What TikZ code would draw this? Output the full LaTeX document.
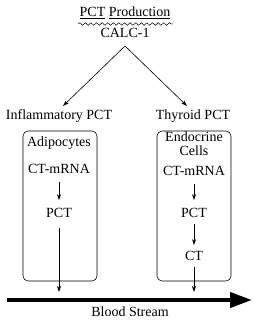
\documentclass[tikz,border=0pt]{standalone}
\usepackage{fontspec}
\setmainfont{Liberation Serif}
\usetikzlibrary{arrows.meta,decorations.pathmorphing}
\begin{document}
\begin{tikzpicture}[x=1pt,y=-1pt,
  lbl/.style={font=\fontsize{14}{16}\selectfont, inner sep=0pt, align=center},
  arr/.style={line width=0.6pt, -{Stealth[length=6pt,width=4pt]}},
  cellbox/.style={draw, line width=0.6pt, rounded corners=5pt, minimum width=74pt, minimum height=150pt, inner sep=0pt}]
\useasboundingbox (0,0) rectangle (260,320);
% header
\node[lbl] (prod) at (125,13) {\underline{PCT} \underline{Production}};
\coordinate (wl) at (78,24);
\coordinate (wr) at (173,24);
\draw[line width=0.5pt, decorate, decoration={snake, segment length=5.6pt, amplitude=1.3pt}] (wl) -- (wr);
\node[lbl] (calc) at (125,33) {CALC-1};
\coordinate (apex) at (125,46);
% branch labels
\node[lbl] (infl) at (59,116) {Inflammatory PCT};
\node[lbl] (thy) at (193,116) {Thyroid PCT};
\coordinate (le) at (63,106);
\coordinate (re) at (187,106);
\draw[arr] (apex) -- (le);
\draw[arr] (apex) -- (re);
% boxes
\node[cellbox] (lbox) at (60,206) {};
\node[cellbox] (rbox) at (194,206) {};
% left column
\node[lbl] (adi) at (59,143) {Adipocytes};
\node[lbl] (lmr) at (59,169) {CT-mRNA};
\node[lbl] (lpct) at (59,213) {PCT};
\draw[arr] ([yshift=-8pt]lmr.south) -- ([yshift=8pt]lpct.north);
% right column
\node[lbl] (endo) at (194,144) {Endocrine\\[-2pt]Cells};
\node[lbl] (rmr) at (194,171) {CT-mRNA};
\node[lbl] (rpct) at (194,213) {PCT};
\node[lbl] (ct) at (194,256) {CT};
\draw[arr] ([yshift=-8pt]rmr.south) -- ([yshift=8pt]rpct.north);
\draw[arr] ([yshift=-6pt]rpct.south) -- ([yshift=6pt]ct.north);
% blood stream
\coordinate (bsl) at (7,300);
\coordinate (bsr) at (252,300);
\draw[line width=4pt, -{Triangle[length=22pt,width=15pt]}] (bsl) -- (bsr);
\coordinate (lhit) at (59,292);
\coordinate (rhit) at (194,292);
\draw[arr] ([yshift=-10pt]lpct.south) -- (lhit);
\draw[arr] ([yshift=-6pt]ct.south) -- (rhit);
\node[lbl] (blood) at (130,312) {Blood Stream};
\end{tikzpicture}
\end{document}
